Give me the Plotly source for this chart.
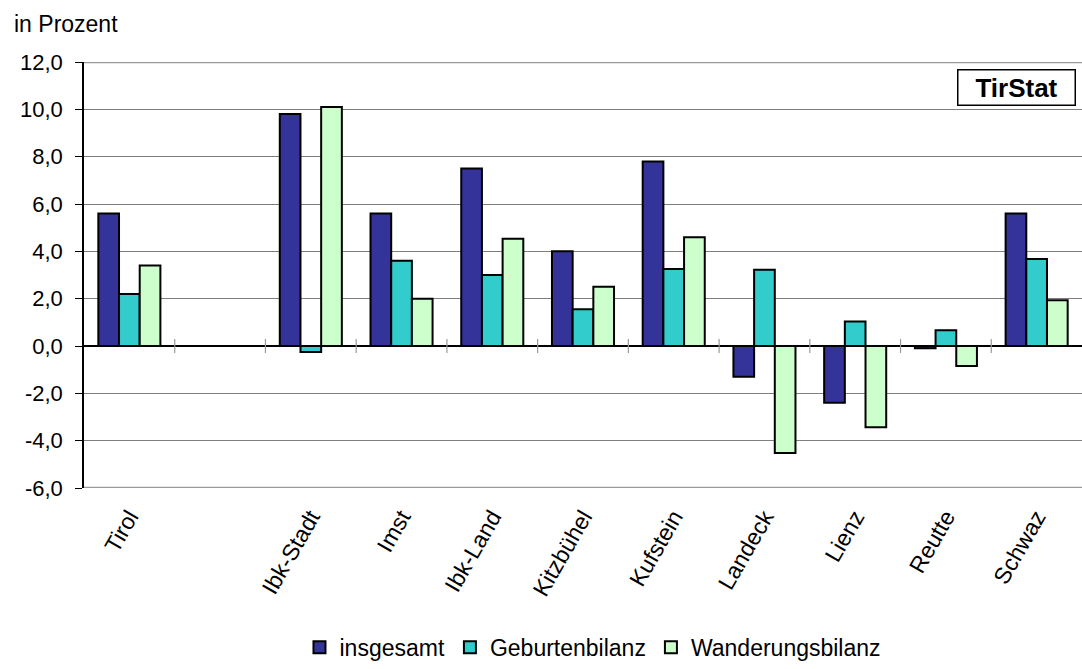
import plotly.graph_objects as go

# Bevölkerungsentwicklung nach Bezirken (in Prozent)
bezirke = ["Tirol", " ", "Ibk-Stadt", "Imst", "Ibk-Land", "Kitzbühel",
           "Kufstein", "Landeck", "Lienz", "Reutte", "Schwaz"]
insgesamt = [5.6, None, 9.8, 5.6, 7.5, 4.0, 7.8, -1.3, -2.4, -0.1, 5.6]
geburtenbilanz = [2.2, None, -0.25, 3.6, 3.0, 1.55, 3.25, 3.22, 1.03, 0.67, 3.68]
wanderungsbilanz = [3.4, None, 10.1, 2.0, 4.53, 2.5, 4.6, -4.52, -3.43, -0.85, 1.93]

y_ticks = [-6, -4, -2, 0, 2, 4, 6, 8, 10, 12]
y_tick_labels = ["-6,0", "-4,0", "-2,0", "0,0", "2,0", "4,0", "6,0", "8,0", "10,0", "12,0"]

FONT = "Liberation Sans, Arial, sans-serif"
series = [
    ("insgesamt", insgesamt, "#333399"),
    ("Geburtenbilanz", geburtenbilanz, "#33CCCC"),
    ("Wanderungsbilanz", wanderungsbilanz, "#CCFFCC"),
]

fig = go.Figure()
for name, vals, color in series:
    fig.add_trace(go.Bar(
        name=name, x=bezirke, y=vals,
        marker=dict(color=color, line=dict(color="black", width=2)),
        hoverinfo="x+y+name",
    ))

# small separator ticks crossing the zero line between categories
shapes = []
for i in range(len(bezirke) - 1):
    shapes.append(dict(
        type="line", xref="x", yref="y", x0=i + 0.5, x1=i + 0.5,
        ysizemode="pixel", yanchor=0, y0=-7, y1=7,
        line=dict(color="#9a9a9a", width=1.2),
    ))
# plot area top and bottom edges
for yv in (12, -6):
    shapes.append(dict(
        type="line", xref="paper", yref="y", x0=0, x1=1, y0=yv, y1=yv,
        line=dict(color="#9a9a9a", width=2.5),
    ))

fig.update_layout(
    width=1082, height=669,
    margin=dict(l=84, r=0, t=62, b=177),
    paper_bgcolor="white", plot_bgcolor="white",
    font=dict(family=FONT, size=22, color="black"),
    barmode="group", bargap=0.316, bargroupgap=0,
    showlegend=True,
    legend=dict(
        orientation="h", x=0.51, xanchor="center", y=-0.374, yanchor="middle",
        font=dict(size=23), itemwidth=30, traceorder="normal",
    ),
    shapes=shapes,
    annotations=[
        dict(text="in Prozent", xref="paper", yref="paper",
             x=-72 / 998, y=1 + 53 / 430, xanchor="left", yanchor="top",
             showarrow=False, font=dict(size=23)),
        dict(text="<b>TirStat</b>", xref="paper", yref="paper",
             x=0.994, y=0.984, xanchor="right", yanchor="top",
             showarrow=False, font=dict(size=26),
             bordercolor="black", borderwidth=1.5, borderpad=2,
             bgcolor="white", width=112),
    ],
)

fig.update_xaxes(
    type="category", tickangle=-60, showgrid=False, showline=False,
    ticks="", tickfont=dict(size=23), zeroline=False,
    ticklabelstandoff=10,
)
fig.update_yaxes(
    range=[-6, 12], tickvals=y_ticks, ticktext=y_tick_labels,
    showgrid=True, gridcolor="#7f7f7f", gridwidth=1,
    zeroline=True, zerolinecolor="black", zerolinewidth=1.5,
    showline=True, linecolor="black", linewidth=1.5,
    ticks="outside", ticklen=7, tickcolor="black", tickwidth=1,
    ticklabelstandoff=8, tickfont=dict(size=22),
)

fig.write_html("out.html")
